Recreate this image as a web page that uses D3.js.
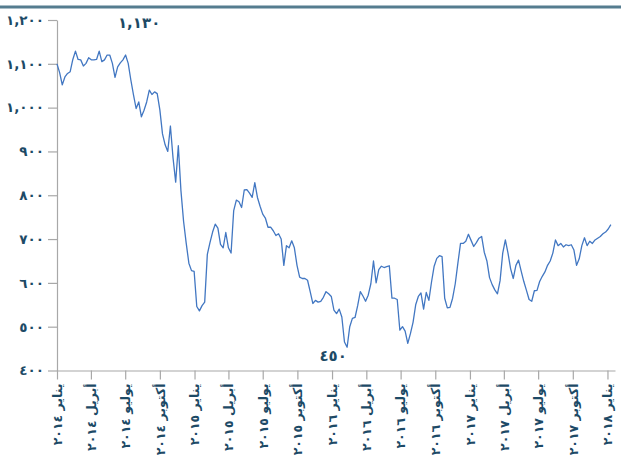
<!DOCTYPE html>
<html><head><meta charset="utf-8">
<script src="https://cdn.jsdelivr.net/npm/d3@7"></script>
<style>
html,body{margin:0;padding:0;background:#fff;}
svg{display:block;}
</style></head>
<body>
<svg id="chart" width="621" height="457"></svg>
<script>
// ---- data (weekly, starting 1 Jan 2014) ----
const startDate = "2014-01-01";
const values = [
1100,1080,1052,1070,1078,1082,1110,1129,1110,1109,
1095,1101,1114,1109,1109,1110,1129,1105,1109,1120,
1120,1101,1069,1093,1102,1109,1120,1101,1063,1029,
998,1013,979,994,1013,1040,1030,1036,1032,995,
940,915,900,958,885,830,913,810,740,690,
645,628,626,546,536,548,556,665,692,716,
734,725,688,680,715,680,668,765,789,785,
772,812,813,805,795,829,795,775,757,748,
727,727,719,708,712,700,640,685,680,696,
680,640,613,610,610,606,580,553,560,556,
558,567,580,575,569,538,530,540,522,465,
453,500,519,521,548,580,570,558,572,598,
650,600,630,638,635,637,639,565,565,562,
492,500,490,462,484,510,550,569,577,540,
578,560,602,638,656,662,660,565,543,544,
565,598,645,690,690,695,711,697,683,692,
702,706,670,650,612,596,584,575,605,668,
698,668,632,610,640,652,627,603,583,562,
558,582,583,603,615,625,640,650,668,698,
685,690,682,687,685,687,675,640,655,685,
703,685,695,690,698,702,706,712,716,723,
733
];
const yTickValues = [400,500,600,700,800,900,1000,1100,1200];
const yTickLabels = ["٤٠٠","٥٠٠","٦٠٠","٧٠٠","٨٠٠","٩٠٠","١,٠٠٠","١,١٠٠","١,٢٠٠"];
const xTickDates = ["2014-01-01","2014-04-01","2014-07-01","2014-10-01",
  "2015-01-01","2015-04-01","2015-07-01","2015-10-01",
  "2016-01-01","2016-04-01","2016-07-01","2016-10-01",
  "2017-01-01","2017-04-01","2017-07-01","2017-10-01","2018-01-01"];
const xTickLabels = ["يناير ٢٠١٤","أبريل ٢٠١٤","يوليو ٢٠١٤","أكتوبر ٢٠١٤",
  "يناير ٢٠١٥","أبريل ٢٠١٥","يوليو ٢٠١٥","أكتوبر ٢٠١٥",
  "يناير ٢٠١٦","أبريل ٢٠١٦","يوليو ٢٠١٦","أكتوبر ٢٠١٦",
  "يناير ٢٠١٧","أبريل ٢٠١٧","يوليو ٢٠١٧","أكتوبر ٢٠١٧","يناير ٢٠١٨"];
const annotations = [
  {date:"2014-08-07", value:1130, label:"١,١٣٠", pos:"top"},
  {date:"2016-01-04", value:450, label:"٤٥٠", pos:"bottom"}
];
const domainEnd = "2018-01-21";

// ---- drawing ----
const parse = d3.utcParse("%Y-%m-%d");
const t0 = parse(startDate);
const data = values.map((v,i)=>({date:d3.utcDay.offset(t0, 7*i), value:v}));

const textColor = "#1d4a66";
const axisColor = "#a8a8a8";
const fontFam = "'DejaVu Sans', sans-serif";

const svg = d3.select("#chart");
const x = d3.scaleUtc().domain([parse("2014-01-01"), parse(domainEnd)]).range([57, 615]);
const y = d3.scaleLinear().domain([400,1200]).range([370.5, 20]);

// top rule
svg.append("line").attr("x1",0).attr("x2",621).attr("y1",7).attr("y2",7)
  .attr("stroke","#557c8f").attr("stroke-width",3);

// y axis
const yAxis = d3.axisLeft(y).tickValues(yTickValues)
  .tickFormat((d,i)=>yTickLabels[i]).tickSize(9).tickSizeOuter(0).tickPadding(4);
const gy = svg.append("g").attr("transform","translate(57,0)").call(yAxis);
gy.select(".domain").attr("stroke",axisColor).attr("stroke-width",1.2);
gy.selectAll(".tick line").attr("stroke",axisColor).attr("stroke-width",1.2);
gy.selectAll(".tick text").attr("fill",textColor).attr("font-family",fontFam)
  .attr("font-weight","bold").attr("font-size",13.5);

// x axis
const xTicks = xTickDates.map(parse);
const xAxis = d3.axisBottom(x).tickValues(xTicks)
  .tickFormat((d,i)=>xTickLabels[i]).tickSize(9).tickSizeOuter(0).tickPadding(3);
const gx = svg.append("g").attr("transform","translate(0,370.5)").call(xAxis);
gx.select(".domain").attr("stroke",axisColor).attr("stroke-width",1.2);
gx.selectAll(".tick line").attr("stroke",axisColor).attr("stroke-width",1.2);
gx.selectAll(".tick text").attr("fill",textColor).attr("font-family",fontFam)
  .attr("font-weight","bold").attr("font-size",12.5)
  .attr("text-anchor","end").attr("dy","0.35em")
  .attr("transform","translate(0,13) rotate(-90)")
  .attr("x",0).attr("y",0);

// line
const line = d3.line().x(d=>x(d.date)).y(d=>y(d.value));
svg.append("path").datum(data).attr("d",line)
  .attr("fill","none").attr("stroke","#4277c2").attr("stroke-width",1.3)
  .attr("stroke-linejoin","round");

// annotations
svg.selectAll(".ann").data(annotations).enter().append("text")
  .attr("class","ann")
  .attr("x",d=>x(parse(d.date)))
  .attr("y",d=>d.pos==="top" ? y(1200)+8 : y(d.value)+12)
  .attr("text-anchor","middle")
  .attr("fill",textColor).attr("font-family",fontFam)
  .attr("font-weight","bold").attr("font-size",15)
  .text(d=>d.label);
</script>
</body></html>
